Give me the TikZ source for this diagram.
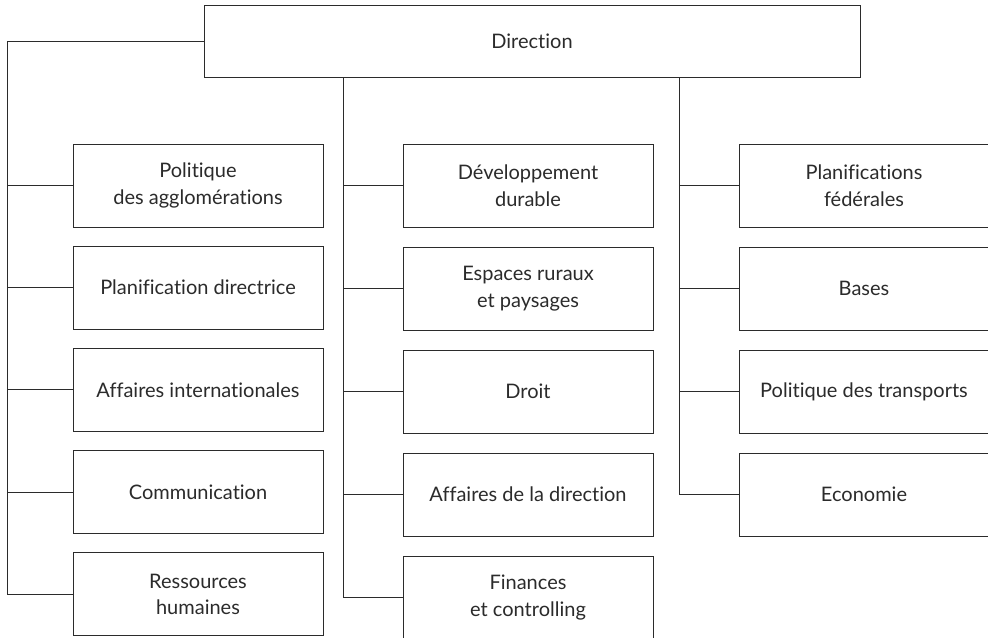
\documentclass[tikz,border=0pt]{standalone}
\usepackage{fontspec}
\setmainfont[Ligatures=NoCommon]{Lato}
\usepackage{tikz}
\usetikzlibrary{positioning}
\definecolor{ink}{HTML}{2B2B2B}
\tikzset{
  unit/.style={draw=ink,fill=white,minimum width=187.5pt,minimum height=62.25pt,
    outer sep=0pt,inner sep=2pt,align=center,text=ink,line width=0.75pt,
    font=\fontsize{15}{20}\selectfont},
  head/.style={unit,minimum width=492pt,minimum height=54pt},
  link/.style={draw=ink,line width=0.75pt},
  node distance=15pt
}
\begin{document}
\begin{tikzpicture}
  \clip (0,0) rectangle (741pt,-477.75pt);
  \useasboundingbox (0,0) rectangle (741pt,-477.75pt);
  \node[head] (dir) at (399pt,-30.75pt) {Direction};
  % left column
  \node[unit] (l1) at (148.5pt,-139.125pt) {Politique\\des agglomérations};
  \node[unit,below=14.4pt of l1] (l2) {Planification directrice};
  \node[unit,below=14.4pt of l2] (l3) {Affaires internationales};
  \node[unit,below=14.4pt of l3] (l4) {Communication};
  \node[unit,below=14.4pt of l4] (l5) {Ressources\\humaines};
  % middle column
  \node[unit] (m1) at (396pt,-139.125pt) {Développement\\durable};
  \node[unit,below=of m1] (m2) {Espaces ruraux\\et paysages};
  \node[unit,below=of m2] (m3) {Droit};
  \node[unit,below=of m3] (m4) {Affaires de la direction};
  \node[unit,below=of m4] (m5) {Finances\\et controlling};
  % right column
  \node[unit] (r1) at (648pt,-139.125pt) {Planifications\\fédérales};
  \node[unit,below=of r1] (r2) {Bases};
  \node[unit,below=of r2] (r3) {Politique des transports};
  \node[unit,below=of r3] (r4) {Economie};
  % trunks
  \coordinate (lt) at ([xshift=-49.5pt]l5.west);
  \coordinate (mt) at ([xshift=-45pt]m5.west);
  \coordinate (rt) at ([xshift=-45pt]r4.west);
  \draw[link] (dir.west) -| (lt) -- (l5.west);
  \draw[link] (mt |- dir.south) -- (mt) -- (m5.west);
  \draw[link] (rt |- dir.south) -- (rt) -- (r4.west);
  \foreach \i in {1,...,4}{
    \draw[link] (l\i.west) -- (l\i.west -| lt);
    \draw[link] (m\i.west) -- (m\i.west -| mt);
  }
  \foreach \i in {1,...,3}
    \draw[link] (r\i.west) -- (r\i.west -| rt);
\end{tikzpicture}
\end{document}
